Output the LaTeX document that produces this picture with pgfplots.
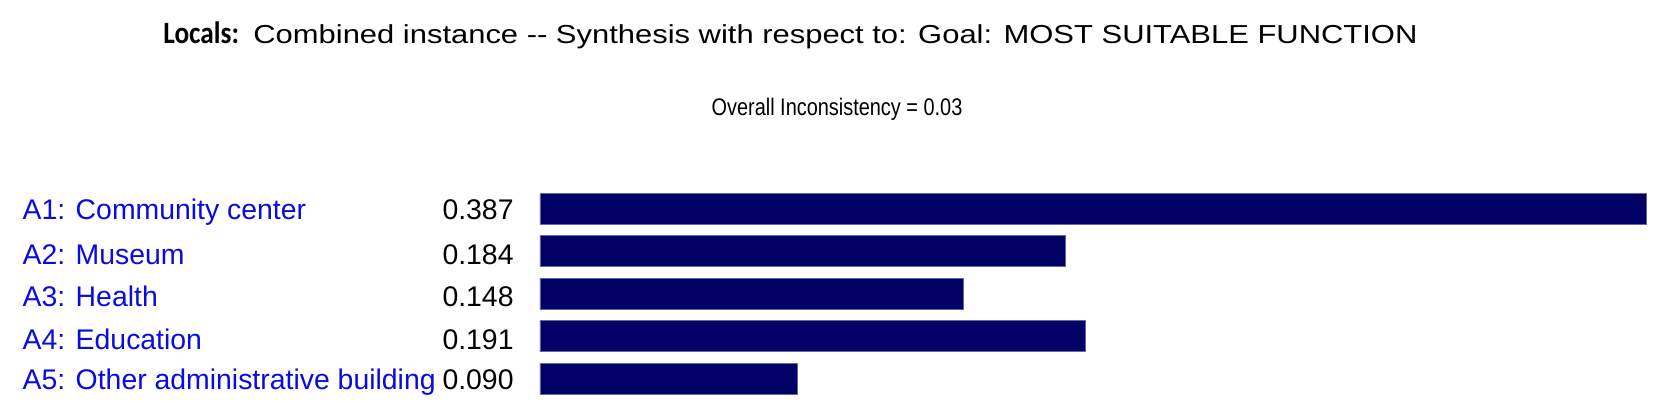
\documentclass[border=0pt]{standalone}
\usepackage{pgfplots}
\pgfplotsset{compat=1.18}
\usepackage{fontspec}
\setmainfont{Liberation Sans}
\newfontfamily\calibri{Carlito}
\definecolor{barnavy}{RGB}{0,0,102}
\definecolor{labelblue}{RGB}{10,10,225}
\newcommand{\lab}[2]{\makebox[245.5pt]{\color{labelblue}#1\hfill\color{black}#2}}
\begin{document}
\begin{tikzpicture}
  % canvas: 1 px of the reference = 0.5pt
  \path[use as bounding box] (0,0) rectangle (835pt,209pt);
  \node[anchor=base west, inner sep=0pt, font=\calibri\fontsize{15.5}{17}\selectfont\bfseries] at (81.5pt,187pt)
    {\scalebox{0.88}[1]{Locals:}};
  \node[anchor=base west, inner sep=0pt, font=\fontsize{13}{15}\selectfont] at (126.5pt,187pt)
    {\scalebox{1.19}[1]{Combined instance -{}- Synthesis with respect to: Goal: MOST SUITABLE FUNCTION}};
  \node[anchor=base, inner sep=0pt, font=\fontsize{12}{14}\selectfont] at (418.5pt,151pt)
    {\scalebox{0.83}[1]{Overall Inconsistency = 0.03}};
  \begin{axis}[
    at={(270pt,9pt)}, anchor=south west,
    scale only axis,
    width=560pt, height=106.25pt,
    xbar, bar width=15.5pt,
    xmin=0, xmax=0.3919,
    ymin=-0.5, ymax=4.5,
    y dir=reverse,
    axis x line=none,
    axis y line*=left,
    y axis line style={draw=none},
    ytick={0,1,2,3,4},
    ytick style={draw=none},
    major tick length=0pt,
    yticklabels={
      \lab{A1: Community center}{0.387},
      \lab{A2: Museum}{0.184},
      \lab{A3: Health}{0.148},
      \lab{A4: Education}{0.191},
      \lab{A5: Other administrative building}{0.090}},
    yticklabel style={inner sep=0pt, xshift=-13pt, yshift=-1.5pt, font=\fontsize{14.2}{16}\selectfont},
  ]
    \addplot[fill=barnavy, draw=barnavy!60!white, line width=0.4pt] coordinates {
      (0.387,0) (0.184,1) (0.148,2) (0.191,3) (0.090,4)
    };
  \end{axis}
\end{tikzpicture}
\end{document}
